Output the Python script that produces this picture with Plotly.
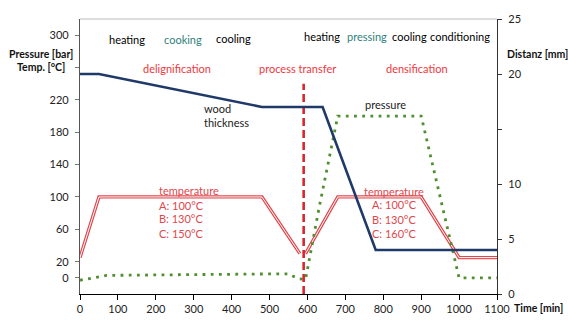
import plotly.graph_objects as go

# Process timeline (minutes) and measured quantities
thick_t = [0, 50, 480, 640, 780, 1100]
thick_mm = [20, 20, 17, 17, 4, 4]

press_t = [0, 70, 300, 550, 575, 595, 630, 680, 900, 1000, 1100]
press_bar = [-3, 3, 4, 5, -1, -2, 85, 200, 200, 0, 0]

temp1_t = [0, 50, 480, 580]
temp1_c = [25, 100, 100, 30]
temp2_t = [595, 680, 900, 1000, 1100]
temp2_c = [30, 100, 100, 25, 25]

transfer_t = 590

left_ticks = [0, 20, 60, 100, 140, 180, 220, 260, 300]
left_text = ["0", "20", "60", "100", "140", "180", "220", "", "300"]
right_ticks = [0, 5, 10, 15, 20, 25]
right_text = ["0", "5", "10", "", "20", "25"]
x_ticks = list(range(0, 1101, 100))

FONT = "Lato"
RED_TXT = "#f2363c"
TEMP_RED = "#e0474c"
TEAL = "#2f7f7c"
NAVY = "#1f3a68"
GREEN = "#4f8f2f"

fig = go.Figure()

# temperature: drawn as a double line (red outer, white core)
for tt, tc in [(temp1_t, temp1_c), (temp2_t, temp2_c)]:
    fig.add_trace(go.Scatter(x=tt, y=tc, mode="lines",
                             line=dict(color=TEMP_RED, width=3.3),
                             hoverinfo="skip", showlegend=False))
    fig.add_trace(go.Scatter(x=tt, y=tc, mode="lines",
                             line=dict(color="white", width=1.0),
                             hoverinfo="skip", showlegend=False))

# pressure (dotted)
fig.add_trace(go.Scatter(x=press_t, y=press_bar, mode="lines",
                         line=dict(color=GREEN, width=2.8, dash="2.8px,5.4px"),
                         showlegend=False))

# wood thickness on the distance axis
fig.add_trace(go.Scatter(x=thick_t, y=thick_mm, mode="lines", yaxis="y2",
                         line=dict(color=NAVY, width=2.6),
                         showlegend=False))

# process transfer marker
fig.add_trace(go.Scatter(x=[transfer_t, transfer_t], y=[-20, 240], mode="lines",
                         line=dict(color="#d9262e", width=2.6, dash="8px,4px"),
                         showlegend=False))

ann = []


def label(text, x, y, color="black", anchor="center", size=11):
    ann.append(dict(text=text, x=x, y=y, xref="x", yref="y", showarrow=False,
                    xanchor=anchor, yanchor="middle",
                    font=dict(family=FONT, size=size, color=color)))


# phase labels
label("heating", 124, 295)
label("cooking", 272, 295, TEAL)
label("cooling", 406, 296)
label("heating", 638, 298)
label("pressing", 757, 298, TEAL)
label("cooling", 868, 298)
label("conditioning", 1002, 298)

label("delignification", 256, 259, RED_TXT)
label("process transfer", 575, 259, RED_TXT)
label("densification", 889, 259, RED_TXT)

label("wood", 322, 209, "#222", "left")
label("thickness", 322, 192.5, "#222", "left")
label("pressure", 805, 214, "#222")

for txt, yy in [("temperature", 107.5), ("A: 100°C", 90), ("B: 130°C", 73), ("C: 150°C", 54.5)]:
    label(txt, 203, yy, TEMP_RED, "left")
for txt, yy in [("temperature", 106.5), ("A: 100°C", 91), ("B: 130°C", 72.5), ("C: 160°C", 54.5)]:
    label(txt, 829, yy, TEMP_RED)


# axis titles
def paper_label(text, x, y, anchor="center"):
    ann.append(dict(text=f"<b>{text}</b>", x=x, y=y, xref="paper", yref="paper",
                    showarrow=False, xanchor=anchor, yanchor="middle",
                    font=dict(family=FONT, size=10.5, color="#111")))


paper_label("Pressure [bar]", -0.0935, 0.873)
paper_label("Temp. [°C]", -0.0935, 0.825)
paper_label("Distanz [mm]", 1.02, 0.871, "left")
paper_label("Time [min]", 1.10, -0.05)

fig.update_layout(
    width=568, height=327,
    margin=dict(l=80, r=71, t=15, b=24),
    paper_bgcolor="white", plot_bgcolor="white",
    font=dict(family=FONT, size=11, color="#333"),
    annotations=ann,
    xaxis=dict(range=[0, 1100], tickvals=x_ticks, showgrid=False, zeroline=False,
               showline=True, linecolor="black", linewidth=1.2,
               ticks="outside", ticklen=5, tickcolor="black",
               tickfont=dict(family=FONT, size=11, color="#222")),
    yaxis=dict(range=[-20, 320], tickvals=left_ticks, ticktext=left_text,
               showgrid=False, zeroline=False, showline=True,
               linecolor="#555", linewidth=1.2, ticks="outside", ticklen=4,
               tickcolor="#777", ticklabelstandoff=4,
               tickfont=dict(family=FONT, size=11, color="#222")),
    yaxis2=dict(range=[0, 25], tickvals=right_ticks, ticktext=right_text,
                overlaying="y", side="right", showgrid=False, zeroline=False,
                showline=True, linecolor="#333", linewidth=1.2,
                ticks="outside", ticklen=4, tickcolor="#333", ticklabelstandoff=4,
                tickfont=dict(family=FONT, size=11, color="#222")),
    shapes=[dict(type="line", xref="paper", yref="paper", x0=0, x1=1, y0=1, y1=1,
                 line=dict(color="#bbbbbb", width=1))],
)

fig.write_html("out.html")
